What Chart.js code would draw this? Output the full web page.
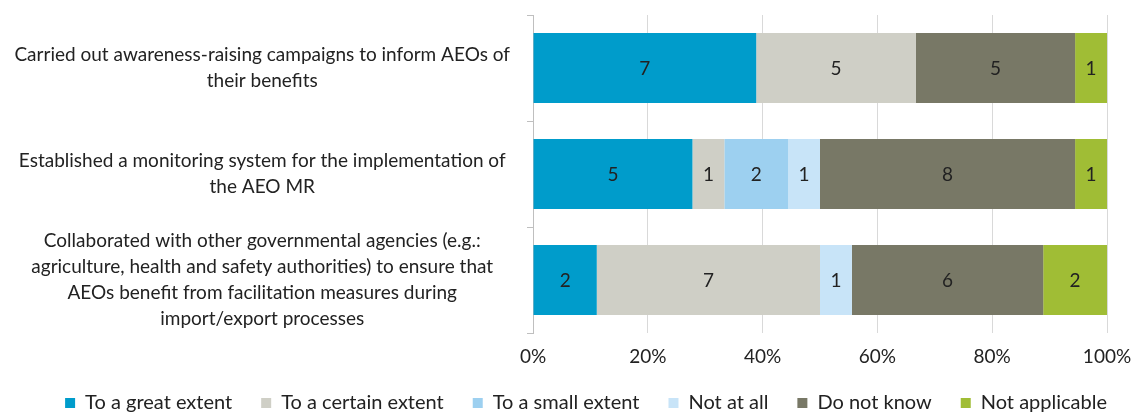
<!DOCTYPE html>
<html>
<head>
<meta charset="utf-8">
<script src="https://cdn.jsdelivr.net/npm/chart.js@4"></script>
<style>
  body { margin: 0; background: #fff; }
</style>
</head>
<body>
<canvas id="grafico" width="1137" height="414"></canvas>
<script>
// Categorías (preguntas)
const categorias = [
    ['Carried out awareness-raising campaigns to inform AEOs of', 'their benefits'],
    ['Established a monitoring system for the implementation of', 'the AEO MR'],
    ['Collaborated with other governmental agencies (e.g.:', 'agriculture, health and safety authorities) to ensure that', 'AEOs benefit from facilitation measures during', 'import/export processes']
];

// Número de respuestas por serie
const granMedida = [7, 5, 2];
const ciertaMedida = [5, 1, 7];
const pequenaMedida = [0, 2, 0];
const enAbsoluto = [0, 1, 1];
const noSabe = [5, 8, 6];
const noAplica = [1, 1, 2];

const etiquetasX = ['0%', '20%', '40%', '60%', '80%', '100%'];

const series = [
    { label: 'To a great extent', datos: granMedida, color: '#009CCB' },
    { label: 'To a certain extent', datos: ciertaMedida, color: '#CFCFC6' },
    { label: 'To a small extent', datos: pequenaMedida, color: '#9DD0F0' },
    { label: 'Not at all', datos: enAbsoluto, color: '#C8E4F8' },
    { label: 'Do not know', datos: noSabe, color: '#787866' },
    { label: 'Not applicable', datos: noAplica, color: '#A0BD35' }
];

// Totales por fila para pasar a porcentaje (gráfico 100% apilado)
const totales = categorias.map((c, i) => series.reduce((s, d) => s + d.datos[i], 0));

const fuente = 'Lato, "Open Sans", sans-serif';
const tamano = 19;
const sepLeyenda = 29;

// Escribe el número de respuestas en el centro de cada segmento
const etiquetasBarras = {
    id: 'etiquetasBarras',
    afterDatasetsDraw(chart) {
        const ctx = chart.ctx;
        ctx.save();
        ctx.font = tamano + 'px ' + fuente;
        ctx.fillStyle = '#222';
        ctx.textAlign = 'center';
        ctx.textBaseline = 'middle';
        chart.data.datasets.forEach((ds, i) => {
            const meta = chart.getDatasetMeta(i);
            meta.data.forEach((barra, j) => {
                const n = series[i].datos[j];
                if (!n) return;
                ctx.fillText(String(n), (barra.x + barra.base) / 2, barra.y + 1);
            });
        });
        ctx.restore();
    }
};

// La leyenda reserva demasiado alto con padding grande; se recorta
// y se corre a la derecha para que termine en el borde del gráfico
const ajusteLeyenda = {
    id: 'ajusteLeyenda',
    afterInit(chart) {
        const leyenda = chart.legend;
        const fitOriginal = leyenda.fit;
        leyenda.fit = function() {
            fitOriginal.call(this);
            this.height = 50;
        };
    },
    afterLayout(chart) {
        chart.legend.left += sepLeyenda;
        chart.legend.right += sepLeyenda;
    }
};

const ctx = document.getElementById('grafico').getContext('2d');
new Chart(ctx, {
    type: 'bar',
    data: {
        labels: categorias,
        datasets: series.map(s => ({
            label: s.label,
            data: s.datos.map((v, i) => v / totales[i] * 100),
            backgroundColor: s.color,
            borderWidth: 0,
            barPercentage: 0.66,
            categoryPercentage: 1
        }))
    },
    options: {
        indexAxis: 'y',
        responsive: false,
        animation: false,
        layout: { padding: { top: 15, right: 30, left: 0, bottom: 0 } },
        plugins: {
            legend: {
                position: 'bottom',
                align: 'end',
                labels: {
                    font: { family: fuente, size: 20 },
                    color: '#222',
                    boxWidth: 10,
                    boxHeight: 10,
                    padding: sepLeyenda
                }
            },
            tooltip: { enabled: false }
        },
        scales: {
            x: {
                stacked: true,
                min: 0,
                max: 100,
                afterFit(scale) {
                    scale.height = 31;
                    scale.paddingLeft = 0;
                    scale.paddingRight = 0;
                },
                ticks: {
                    stepSize: 20,
                    font: { family: fuente, size: tamano },
                    color: '#222',
                    padding: 12,
                    callback: (v, i) => etiquetasX[i]
                },
                grid: { color: '#D9D9D9', drawTicks: false },
                border: { display: false }
            },
            y: {
                stacked: true,
                afterFit(scale) {
                    scale.width = 533;
                    scale.paddingTop = 0;
                    scale.paddingBottom = 0;
                },
                ticks: {
                    autoSkip: false,
                    font: { family: fuente, size: tamano, lineHeight: 1.37 },
                    color: '#222',
                    crossAlign: 'center',
                    padding: 17
                },
                grid: { drawOnChartArea: false, tickLength: 6, color: '#BFBFBF', offset: true },
                border: { color: '#BFBFBF' }
            }
        }
    },
    plugins: [etiquetasBarras, ajusteLeyenda]
});
</script>
</body>
</html>
